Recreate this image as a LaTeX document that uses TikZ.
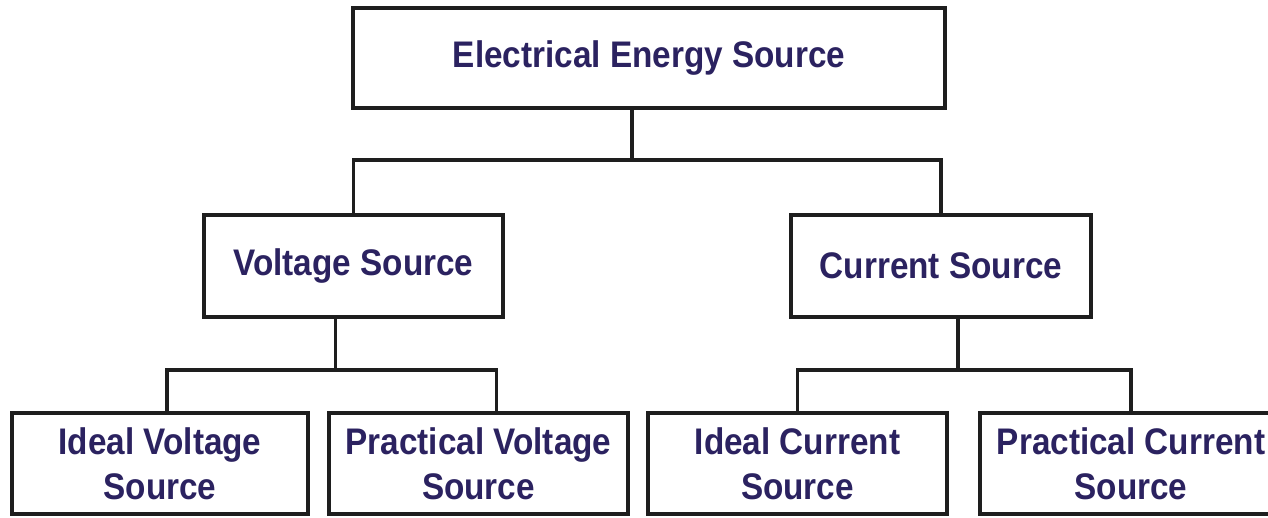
\documentclass[tikz,border=0pt]{standalone}
\usepackage{fontspec}
\setmainfont{Liberation Sans}[FakeStretch=0.9]
\definecolor{txt}{HTML}{2B2260}
\definecolor{ln}{HTML}{1E1E1E}
\begin{document}
\begin{tikzpicture}[x=1pt,y=-1pt,
  box/.style={draw=ln, line width=3.6pt, fill=white, inner sep=0pt, align=center,
    text=txt, font=\fontsize{37}{45}\selectfont\bfseries},
  conn/.style={draw=ln, line width=3.6pt, line join=miter}]
\useasboundingbox (0,0) rectangle (1268,517);
\node[box, minimum width=592pt, minimum height=100pt] (top) at (649,58) {Electrical Energy Source};
\node[box, minimum width=299pt, minimum height=102pt] (volt) at (353.5,266) {Voltage Source};
\node[box, minimum width=300pt, minimum height=102pt] (curr) at (941,266) {Current Source};
\node[box, minimum width=296pt, minimum height=101pt] (iv) at (160,463.5) {Ideal Voltage\\Source};
\node[box, minimum width=299pt, minimum height=101pt] (pv) at (478.5,463.5) {Practical Voltage\\Source};
\node[box, minimum width=299pt, minimum height=101pt] (ic) at (797.5,463.5) {Ideal Current\\Source};
\node[box, minimum width=302pt, minimum height=101pt] (pc) at (1131,463.5) {Practical Current\\Source};
\draw[conn] ([xshift=-17pt]top.south) -- ++(0,50) coordinate (j1);
\draw[conn] (volt.north) |- (j1) -| (curr.north);
\draw[conn] ([xshift=-18pt]volt.south) -- ++(0,51) coordinate (j2);
\draw[conn] ([xshift=7pt]iv.north) |- (j2) -| ([xshift=18pt]pv.north);
\draw[conn] ([xshift=17pt]curr.south) -- ++(0,51) coordinate (j3);
\draw[conn] (ic.north) |- (j3) -| (pc.north);
\end{tikzpicture}
\end{document}
